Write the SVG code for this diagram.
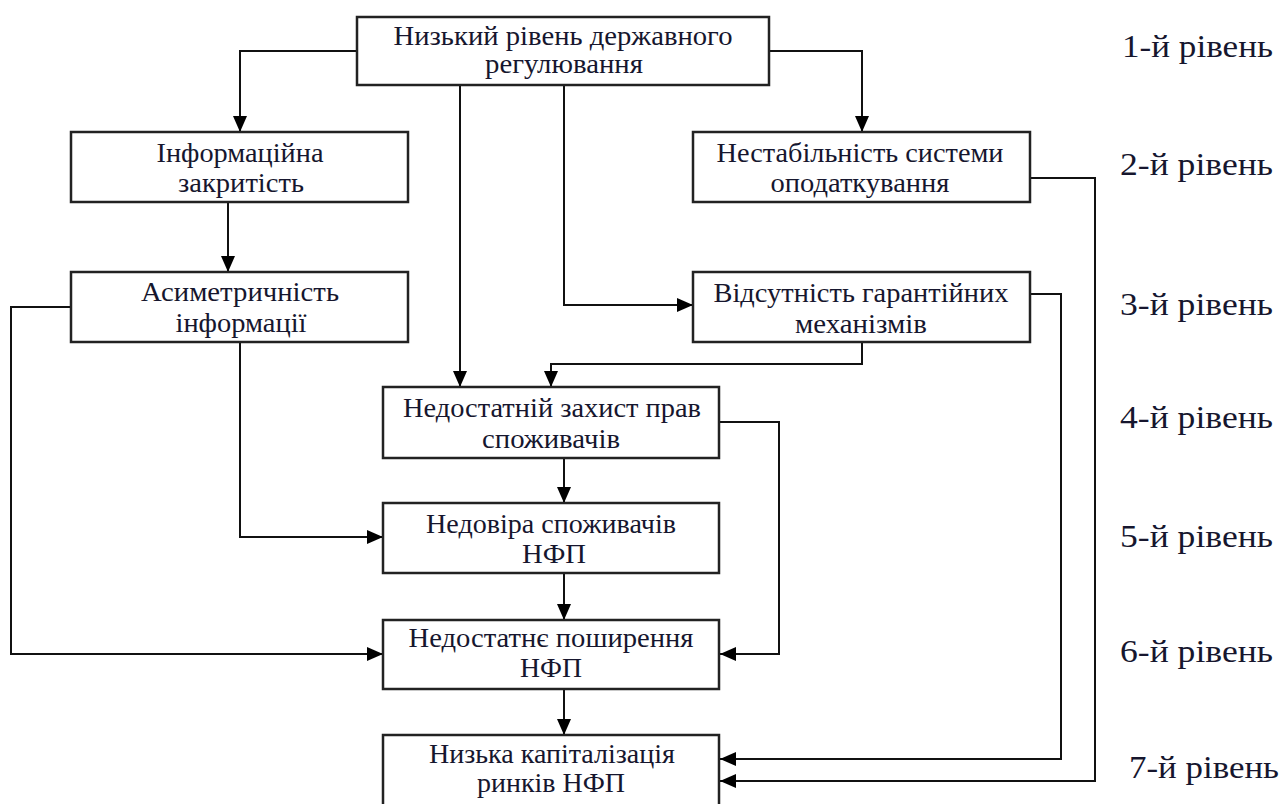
<svg xmlns="http://www.w3.org/2000/svg" width="1284" height="804" viewBox="0 0 1284 804">
<style>
.box{fill:#fff;stroke:#222;stroke-width:2.5}
text{font-family:'Liberation Serif','Times New Roman',serif}
.t{font-size:27px;fill:#16162e;text-anchor:middle}
.lvl{font-size:32px;fill:#16162e}
.c{fill:none;stroke:#111;stroke-width:2;marker-end:url(#ah)}
</style>
<defs>
<marker id="ah" viewBox="0 0 16 14" refX="16" refY="7" markerWidth="16" markerHeight="14" orient="auto" markerUnits="userSpaceOnUse">
<path d="M0,0 L16,7 L0,14 Z" fill="#000"/>
</marker>
</defs>
<rect width="1284" height="804" fill="#fff"/>
<g id="connectors">
<path class="c" d="M357,51 H240 V132"/>
<path class="c" d="M769,51 H862 V132"/>
<path class="c" d="M460,85 V387"/>
<path class="c" d="M564,85 V305 H693"/>
<path class="c" d="M862,342 V364 H551 V387"/>
<path class="c" d="M228,202 V272"/>
<path class="c" d="M240,342 V537 H383"/>
<path class="c" d="M71,307 H11 V654 H383"/>
<path class="c" d="M564,458 V503"/>
<path class="c" d="M719,422 H779 V654 H720"/>
<path class="c" d="M564,573 V620"/>
<path class="c" d="M564,689 V735"/>
<path class="c" d="M1030,294 H1061 V759 H720"/>
<path class="c" d="M1030,178 H1095 V781 H720"/>
</g>
<g id="n1">
<rect class="box" x="357" y="17" width="412" height="68"/>
<text class="t" x="563" y="45" textLength="339" lengthAdjust="spacingAndGlyphs">Низький рівень державного</text>
<text class="t" x="564" y="73" textLength="158" lengthAdjust="spacingAndGlyphs">регулювання</text>
</g>
<g id="n2">
<rect class="box" x="71" y="132" width="337" height="70"/>
<text class="t" x="240" y="162" textLength="167" lengthAdjust="spacingAndGlyphs">Інформаційна</text>
<text class="t" x="241" y="192" textLength="126" lengthAdjust="spacingAndGlyphs">закритість</text>
</g>
<g id="n3">
<rect class="box" x="693" y="132" width="337" height="70"/>
<text class="t" x="860" y="162" textLength="287" lengthAdjust="spacingAndGlyphs">Нестабільність системи</text>
<text class="t" x="860" y="192" textLength="179" lengthAdjust="spacingAndGlyphs">оподаткування</text>
</g>
<g id="n4">
<rect class="box" x="71" y="272" width="337" height="70"/>
<text class="t" x="240" y="301" textLength="198" lengthAdjust="spacingAndGlyphs">Асиметричність</text>
<text class="t" x="241" y="332" textLength="131" lengthAdjust="spacingAndGlyphs">інформації</text>
</g>
<g id="n5">
<rect class="box" x="693" y="272" width="337" height="70"/>
<text class="t" x="861" y="302" textLength="295" lengthAdjust="spacingAndGlyphs">Відсутність гарантійних</text>
<text class="t" x="861" y="333" textLength="132" lengthAdjust="spacingAndGlyphs">механізмів</text>
</g>
<g id="n6">
<rect class="box" x="383" y="387" width="336" height="71"/>
<text class="t" x="552" y="417" textLength="298" lengthAdjust="spacingAndGlyphs">Недостатній захист прав</text>
<text class="t" x="551" y="448" textLength="138" lengthAdjust="spacingAndGlyphs">споживачів</text>
</g>
<g id="n7">
<rect class="box" x="383" y="503" width="336" height="70"/>
<text class="t" x="551" y="533" textLength="250" lengthAdjust="spacingAndGlyphs">Недовіра споживачів</text>
<text class="t" x="554" y="563" textLength="64" lengthAdjust="spacingAndGlyphs">НФП</text>
</g>
<g id="n8">
<rect class="box" x="383" y="620" width="336" height="69"/>
<text class="t" x="551" y="647" textLength="285" lengthAdjust="spacingAndGlyphs">Недостатнє поширення</text>
<text class="t" x="551" y="677" textLength="62" lengthAdjust="spacingAndGlyphs">НФП</text>
</g>
<g id="n9">
<rect class="box" x="383" y="735" width="336" height="72"/>
<text class="t" x="552" y="763" textLength="246" lengthAdjust="spacingAndGlyphs">Низька капіталізація</text>
<text class="t" x="551" y="792" textLength="148" lengthAdjust="spacingAndGlyphs">ринків НФП</text>
</g>
<g id="levels">
<text class="lvl" x="1122" y="57" textLength="151" lengthAdjust="spacingAndGlyphs">1-й рівень</text>
<text class="lvl" x="1120" y="175" textLength="153" lengthAdjust="spacingAndGlyphs">2-й рівень</text>
<text class="lvl" x="1120" y="315" textLength="153" lengthAdjust="spacingAndGlyphs">3-й рівень</text>
<text class="lvl" x="1120" y="428" textLength="153" lengthAdjust="spacingAndGlyphs">4-й рівень</text>
<text class="lvl" x="1120" y="547" textLength="153" lengthAdjust="spacingAndGlyphs">5-й рівень</text>
<text class="lvl" x="1120" y="662" textLength="153" lengthAdjust="spacingAndGlyphs">6-й рівень</text>
<text class="lvl" x="1129" y="778" textLength="150" lengthAdjust="spacingAndGlyphs">7-й рівень</text>
</g>
</svg>
